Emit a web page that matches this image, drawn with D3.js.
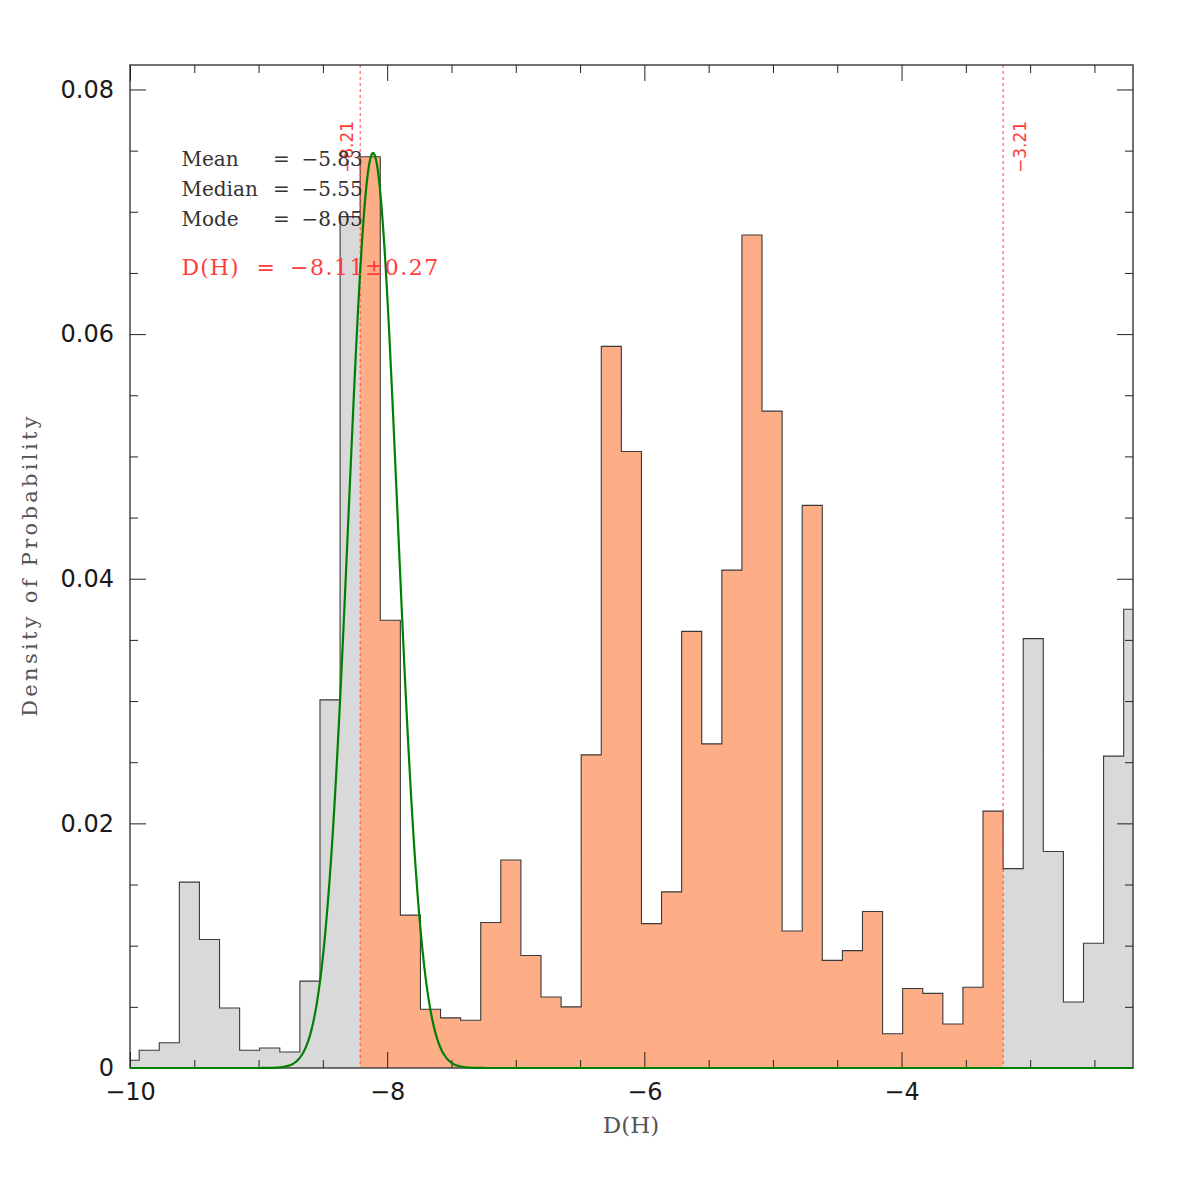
<!DOCTYPE html>
<html>
<head>
<meta charset="utf-8">
<script src="https://cdn.jsdelivr.net/npm/d3@7"></script>
<style>
  body { margin: 0; background: #fff; }
  svg { display: block; }
</style>
</head>
<body>
<svg id="chart" width="1196" height="1196"></svg>
<script>
// probability per bin of D(H); bins are 5/32 wide, lined up on the -8.21 limit
var binWidth = 0.15625;
var firstEdge = -8.21 - 12 * binWidth;

// bins below the lower limit (grey)
var lowTail = [0.00063, 0.00145, 0.00207, 0.0152, 0.0105, 0.0049, 0.00145, 0.00163, 0.00131, 0.0071, 0.0301, 0.0696];
// bins between the limits (orange)
var inRange = [0.0745, 0.0366, 0.0125, 0.0048, 0.0041, 0.0039, 0.0119, 0.0170, 0.0092, 0.0058,
               0.0050, 0.0256, 0.0590, 0.0504, 0.0118, 0.0144, 0.0357, 0.0265, 0.0407, 0.0681,
               0.0537, 0.0112, 0.0460, 0.0088, 0.0096, 0.0128, 0.0028, 0.0065, 0.0061, 0.0036,
               0.0066, 0.0210];
// bins above the upper limit (grey)
var highTail = [0.0163, 0.0351, 0.0177, 0.0054, 0.0102, 0.0255, 0.0375];

var limits = [-8.21, -3.21];
var limitLabels = ["\u22128.21", "\u22123.21"];

var statNames = ["Mean", "Median", "Mode"];
var statValues = ["\u22125.83", "\u22125.55", "\u22128.05"];
var resultValue = "\u22128.11\u00b10.27";

// gaussian fit drawn in green
var fitMean = -8.11, fitSigma = 0.19, fitPeak = 0.0748;

var xMajorTicks = [-10, -8, -6, -4];
var yMajorTicks = [0, 0.02, 0.04, 0.06, 0.08];

var svg = d3.select("#chart"),
    pLeft = 130, pRight = 1133, pTop = 65, pBottom = 1068;

var x = d3.scaleLinear().domain([-10, -2.2]).range([pLeft, pRight]);
var y = d3.scaleLinear().domain([0, 0.082]).range([pBottom, pTop]);

svg.append("rect").attr("width", 1196).attr("height", 1196).attr("fill", "#fff");

svg.append("clipPath").attr("id", "plotclip")
  .append("rect").attr("x", pLeft).attr("y", pTop)
  .attr("width", pRight - pLeft).attr("height", pBottom - pTop);

var all = lowTail.concat(inRange, highTail);
function steps(values, offset) {
  var pts = [];
  values.forEach(function(v, i) {
    var x0 = firstEdge + (i + offset) * binWidth;
    pts.push([x0, v], [x0 + binWidth, v]);
  });
  return pts;
}

var area = d3.area()
    .x(function(d) { return x(d[0]); })
    .y0(y(0))
    .y1(function(d) { return y(d[1]); });

var line = d3.line()
    .x(function(d) { return x(d[0]); })
    .y(function(d) { return y(d[1]); });

var hist = svg.append("g").attr("clip-path", "url(#plotclip)");

hist.append("path")
    .attr("d", area(steps(all, 0)))
    .attr("fill", "#d9d9d9");

hist.append("path")
    .attr("d", area(steps(inRange, lowTail.length)))
    .attr("fill", "#fdae87");

var outline = steps(all, 0);
outline.unshift([firstEdge, 0]);
outline.push([firstEdge + all.length * binWidth, 0]);
hist.append("path")
    .attr("d", line(outline))
    .attr("fill", "none")
    .attr("stroke", "#3a3a3a")
    .attr("stroke-width", 1.1);

// limits
svg.selectAll(".limit")
  .data(limits)
  .enter().append("line")
    .attr("class", "limit")
    .attr("x1", function(d) { return x(d); })
    .attr("x2", function(d) { return x(d); })
    .attr("y1", pTop)
    .attr("y2", pBottom)
    .attr("stroke", "#ff4545")
    .attr("stroke-width", 1)
    .attr("stroke-dasharray", "3,3");

svg.selectAll(".limit-label")
  .data(limits)
  .enter().append("text")
    .attr("class", "limit-label")
    .attr("transform", function(d, i) {
      return "translate(" + (x(d) + (i == 0 ? -7.5 : 23)) + ",173) rotate(-90)";
    })
    .attr("font-family", "DejaVu Sans")
    .attr("font-size", "17px")
    .attr("fill", "#ff3c3c")
    .text(function(d, i) { return limitLabels[i]; });

// frame
svg.append("rect")
    .attr("x", pLeft).attr("y", pTop)
    .attr("width", pRight - pLeft).attr("height", pBottom - pTop)
    .attr("fill", "none")
    .attr("stroke", "#444")
    .attr("stroke-width", 1.5);

var xMinor = d3.range(-20, -4).map(function(i) { return i / 2; })
    .filter(function(d) { return xMajorTicks.indexOf(d) < 0; });
var yMinor = d3.range(0, 17).filter(function(i) { return i % 4 != 0; })
    .map(function(i) { return i * 0.005; });

function tickStyle(g) {
  g.select(".domain").remove();
  g.selectAll(".tick line").attr("stroke", "#222").attr("stroke-width", 1);
  g.selectAll(".tick text")
    .attr("font-family", "DejaVu Sans")
    .attr("font-size", "24px")
    .attr("fill", "#1a1a1a");
}

svg.append("g").attr("transform", "translate(0," + pBottom + ")")
    .call(d3.axisBottom(x).tickValues(xMajorTicks).tickSizeInner(-16).tickSizeOuter(0)
      .tickPadding(15).tickFormat(d3.format("d")))
    .call(tickStyle);
svg.append("g").attr("transform", "translate(0," + pBottom + ")")
    .call(d3.axisBottom(x).tickValues(xMinor).tickSizeInner(-8).tickSizeOuter(0).tickFormat(""))
    .call(tickStyle);
svg.append("g").attr("transform", "translate(0," + pTop + ")")
    .call(d3.axisTop(x).tickValues(xMajorTicks).tickSizeInner(-16).tickSizeOuter(0).tickFormat(""))
    .call(tickStyle);
svg.append("g").attr("transform", "translate(0," + pTop + ")")
    .call(d3.axisTop(x).tickValues(xMinor).tickSizeInner(-8).tickSizeOuter(0).tickFormat(""))
    .call(tickStyle);

svg.append("g").attr("transform", "translate(" + pLeft + ",0)")
    .call(d3.axisLeft(y).tickValues(yMajorTicks).tickSizeInner(-16).tickSizeOuter(0)
      .tickPadding(16).tickFormat(function(d) { return d == 0 ? "0" : d3.format(".2f")(d); }))
    .call(tickStyle);
svg.append("g").attr("transform", "translate(" + pLeft + ",0)")
    .call(d3.axisLeft(y).tickValues(yMinor).tickSizeInner(-8).tickSizeOuter(0).tickFormat(""))
    .call(tickStyle);
svg.append("g").attr("transform", "translate(" + pRight + ",0)")
    .call(d3.axisRight(y).tickValues(yMajorTicks).tickSizeInner(-16).tickSizeOuter(0).tickFormat(""))
    .call(tickStyle);
svg.append("g").attr("transform", "translate(" + pRight + ",0)")
    .call(d3.axisRight(y).tickValues(yMinor).tickSizeInner(-8).tickSizeOuter(0).tickFormat(""))
    .call(tickStyle);

// gaussian fit
var fitX = d3.range(-10, -2.2, 0.004);
svg.append("path")
    .datum(fitX)
    .attr("d", d3.line()
      .x(function(d) { return x(d); })
      .y(function(d) {
        var z = (d - fitMean) / fitSigma;
        return y(fitPeak * Math.exp(-0.5 * z * z));
      }))
    .attr("fill", "none")
    .attr("stroke", "#008000")
    .attr("stroke-width", 2.2);

// axis titles
svg.append("text")
    .attr("x", 631).attr("y", 1133)
    .attr("text-anchor", "middle")
    .attr("font-family", "DejaVu Serif")
    .attr("font-size", "23px")
    .attr("fill", "#555")
    .text("D(H)");

svg.append("text")
    .attr("transform", "translate(37,565) rotate(-90)")
    .attr("text-anchor", "middle")
    .attr("font-family", "DejaVu Serif")
    .attr("font-size", "21px")
    .attr("letter-spacing", "3.3px")
    .attr("fill", "#555")
    .text("Density of Probability");

// statistics
var stats = svg.append("g")
    .attr("font-family", "DejaVu Serif")
    .attr("font-size", "20px")
    .attr("fill", "#333");
statNames.forEach(function(n, i) {
  var yy = 166 + i * 30;
  stats.append("text").attr("x", 181.5).attr("y", yy).text(n);
  stats.append("text").attr("x", 273).attr("y", yy).text("=");
  stats.append("text").attr("x", 301.5).attr("y", yy).text(statValues[i]);
});

var res = svg.append("g")
    .attr("font-family", "DejaVu Serif")
    .attr("font-size", "22px")
    .attr("fill", "#ff3c3c");
res.append("text").attr("x", 181.5).attr("y", 275).attr("letter-spacing", "1px").text("D(H)");
res.append("text").attr("x", 256.5).attr("y", 275).text("=");
res.append("text").attr("x", 290).attr("y", 275).attr("letter-spacing", "1.5px").text(resultValue);
</script>
</body>
</html>
